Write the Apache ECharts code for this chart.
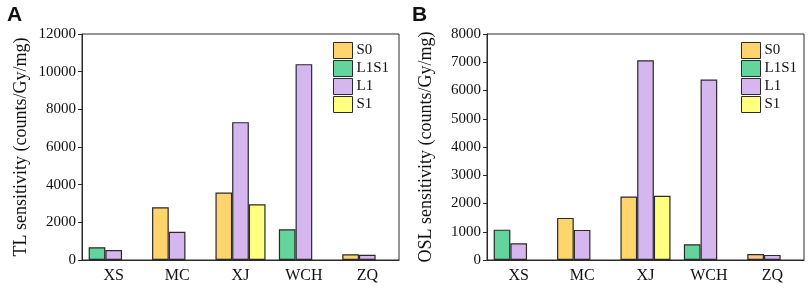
<!DOCTYPE html>
<html>
<head>
<meta charset="utf-8">
<script src="https://cdn.jsdelivr.net/npm/echarts@6/dist/echarts.min.js"></script>
<style>
  html, body { margin: 0; padding: 0; background: #fff; }
  #main { width: 809px; height: 288px; }
</style>
</head>
<body>
<div id="main"></div>
<script>
// 样品
var sites = ['XS', 'MC', 'XJ', 'WCH', 'ZQ']
var seriesNames = ['S0', 'L1S1', 'L1', 'S1']

// TL 灵敏度 (counts/Gy/mg)
var tlS0 = [0, 2800, 3580, 0, 300]
var tlL1S1 = [680, 0, 0, 1630, 0]
var tlL1 = [530, 1500, 7320, 10400, 280]
var tlS1 = [0, 0, 2960, 0, 0]

// OSL 灵敏度 (counts/Gy/mg)
var oslS0 = [0, 1490, 2250, 0, 215]
var oslL1S1 = [1075, 0, 0, 560, 0]
var oslL1 = [590, 1065, 7070, 6385, 180]
var oslS1 = [0, 0, 2270, 0, 0]

var colors = {
  S0: '#fed46c',
  L1S1: '#62d49c',
  L1: '#d6b6ef',
  S1: '#ffff80'
}
var serif = 'Liberation Serif'
var edge = '#2a2a2a'

var chart = echarts.init(document.getElementById('main'))

// 0 值不画柱子
function toData(arr, special) {
  return arr.map(function (v, i) {
    if (!v) return '-'
    if (special && special[i]) {
      return { value: v, itemStyle: { color: special[i] } }
    }
    return v
  })
}

function makeSeries(idx, s0, l1s1, l1, s1, s0Special) {
  var stacks = { S0: 'a', L1S1: 'a', L1: 'b', S1: 'c' }
  var vals = { S0: s0, L1S1: l1s1, L1: l1, S1: s1 }
  return seriesNames.map(function (name) {
    return {
      name: name,
      type: 'bar',
      xAxisIndex: idx,
      yAxisIndex: idx,
      stack: stacks[name] + idx,
      barGap: 0,
      barCategoryGap: '21%',
      data: toData(vals[name], name === 'S0' ? s0Special : null),
      itemStyle: {
        color: colors[name],
        borderColor: edge,
        borderWidth: 1.2
      }
    }
  })
}

function xAxis(idx) {
  return {
    type: 'category',
    gridIndex: idx,
    data: sites,
    axisLine: { lineStyle: { color: edge, width: 1 } },
    axisTick: { alignWithLabel: true, length: 5, lineStyle: { color: edge } },
    axisLabel: { color: '#111', fontFamily: serif, fontSize: 16, margin: 8 }
  }
}

function yAxis(idx, name, max, interval) {
  return {
    type: 'value',
    gridIndex: idx,
    min: 0,
    max: max,
    interval: interval,
    name: name,
    nameLocation: 'middle',
    nameGap: 52,
    nameTextStyle: { color: '#111', fontFamily: serif, fontSize: 18 },
    axisLine: { show: true, lineStyle: { color: edge, width: 1 } },
    axisTick: { show: true, length: 4, lineStyle: { color: edge } },
    axisLabel: {
      color: '#111', fontFamily: serif, fontSize: 15, margin: 6,
      formatter: function (v) { return String(v) }
    },
    splitLine: { show: false }
  }
}

function legend(idx, left) {
  return {
    data: seriesNames.map(function (n) {
      return { name: n, itemStyle: { color: colors[n], borderColor: edge, borderWidth: 1 } }
    }),
    orient: 'vertical',
    left: left,
    top: 37,
    padding: [5, 5, 5, 5],
    itemWidth: 19,
    itemHeight: 16,
    itemGap: 1,
    icon: 'rect',
    selectedMode: false,
    textStyle: { color: '#111', fontFamily: serif, fontSize: 15, padding: [0, 0, 0, -1] }
  }
}

var option = {
  animation: false,
  title: [
    { text: 'A', left: 2, top: 0, textStyle: { fontFamily: 'Liberation Sans', fontWeight: 'bold', fontSize: 21, color: '#111' } },
    { text: 'B', left: 407, top: 0, textStyle: { fontFamily: 'Liberation Sans', fontWeight: 'bold', fontSize: 21, color: '#111' } }
  ],
  legend: [legend(0, 328), legend(1, 736)],
  grid: [
    { left: 82, right: 410, top: 34, bottom: 28, show: true, borderColor: edge, borderWidth: 1 },
    { left: 487, right: 5, top: 34, bottom: 28, show: true, borderColor: edge, borderWidth: 1 }
  ],
  xAxis: [xAxis(0), xAxis(1)],
  yAxis: [
    yAxis(0, 'TL sensitivity (counts/Gy/mg)', 12000, 2000),
    yAxis(1, 'OSL sensitivity (counts/Gy/mg)', 8000, 1000)
  ],
  series: makeSeries(0, tlS0, tlL1S1, tlL1, tlS1)
    .concat(makeSeries(1, oslS0, oslL1S1, oslL1, oslS1, [null, null, null, null, '#ffc690']))
}

chart.setOption(option)
</script>
</body>
</html>
